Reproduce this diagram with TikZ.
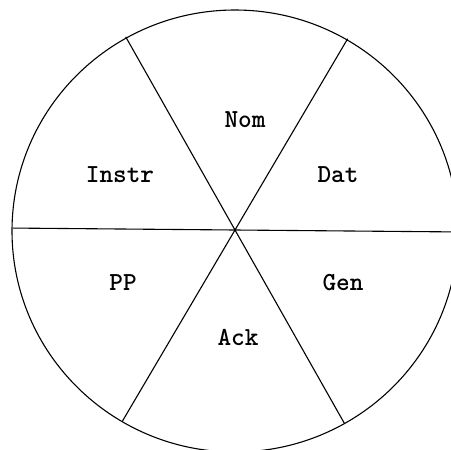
\documentclass[tikz,border=0pt]{standalone}
\usepackage{tikz}
\usetikzlibrary{positioning, calc}

\tikzset{
  kasus/.style={font=\fontsize{26}{30}\selectfont\ttfamily\bfseries, inner sep=0pt},
  linje/.style={line width=1.1pt, black}
}

\begin{document}
\begin{tikzpicture}[x=1pt, y=-1pt]
  % ram (451 x 450)
  \useasboundingbox (0,0) rectangle (451,450);
  \clip (0,0) rectangle (451,450);

  % cirkel
  \coordinate (m) at (235,231);
  \coordinate (c) at (235,230);
  \draw[linje] (m) ellipse (223 and 221);

  % tre diametrar
  \foreach \v in {0.5, 60.5, 120.5}
    \draw[linje] ($(c)+(\v:222)$) -- ($(c)+(\v+180:222)$);

  % kasus i sektorerna
  \node[kasus] (nom)   at (245,120) {Nom};
  \node[kasus] (dat)   at (338,175) {Dat};
  \node[kasus] (instr) at (120,175) {Instr};
  \node[kasus] (pp)    at (123,283) {PP};
  \node[kasus] (gen)   at (343,283) {Gen};
  \node[kasus] (ack)   at (238,337) {Ack};
\end{tikzpicture}
\end{document}
